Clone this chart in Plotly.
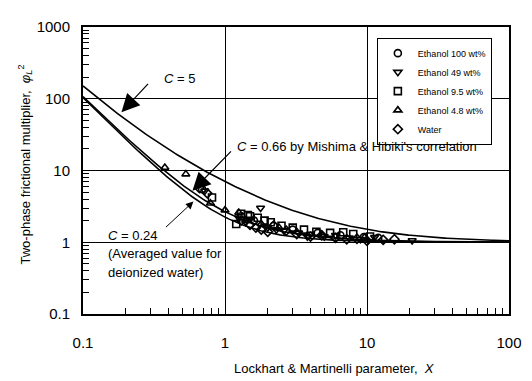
import numpy as np
import plotly.graph_objects as go

# ---- data ----
eth100_x = [0.69, 1.3, 1.6, 2.2, 3.0, 4.5, 6.5, 9.5, 12.0]
eth100_y = [5.5, 2.3, 2.0, 1.7, 1.5, 1.35, 1.25, 1.18, 1.15]

eth49_x = [0.72, 1.25, 1.4, 1.5, 1.78, 2.0, 2.3, 2.6, 3.3, 3.8, 4.0, 5.0, 6.0, 7.5, 9.0, 11.3, 20.8]
eth49_y = [5.2, 2.2, 1.9, 2.1, 3.0, 1.6, 1.5, 1.45, 1.35, 1.2, 1.3, 1.2, 1.25, 1.15, 1.1, 1.17, 1.06]

eth95_x = [0.81, 1.2, 1.3, 1.45, 1.5, 1.7, 1.9, 2.1, 2.5, 3.0, 3.6, 4.4, 5.5, 6.8, 8.0, 10.5]
eth95_y = [4.2, 1.8, 2.5, 2.4, 2.3, 2.2, 2.0, 1.9, 1.7, 1.6, 1.5, 1.4, 1.35, 1.38, 1.3, 1.2]

eth48_x = [0.377, 0.53, 0.79, 1.0, 1.25, 1.4, 1.8, 2.4, 3.2, 4.8, 9.6]
eth48_y = [11.0, 8.9, 3.5, 2.8, 2.6, 2.0, 1.8, 1.6, 1.4, 1.25, 1.17]

water_x = [0.66, 0.75, 1.3, 1.5, 1.65, 1.8, 2.0, 2.2, 2.7, 3.2, 4.0, 4.8, 6.0, 7.2, 8.5, 10.0, 13.0, 15.6]
water_y = [5.7, 4.8, 2.0, 1.75, 1.6, 1.5, 1.4, 1.7, 1.45, 1.3, 1.2, 1.25, 1.15, 1.1, 1.12, 1.05, 1.08, 1.1]

C_values = [5.0, 0.66, 0.24]
curve_X = np.logspace(-1, 2, 200)

x_major = [0.1, 1, 10, 100]
y_major = [0.1, 1, 10, 100, 1000]

series = [
    ("Ethanol 100 wt%", eth100_x, eth100_y, "circle-open"),
    ("Ethanol 49 wt%", eth49_x, eth49_y, "triangle-down-open"),
    ("Ethanol 9.5 wt%", eth95_x, eth95_y, "square-open"),
    ("Ethanol 4.8 wt%", eth48_x, eth48_y, "triangle-up-open"),
    ("Water", water_x, water_y, "diamond-open"),
]

FONT = "Liberation Sans, Arial, sans-serif"
fig = go.Figure()

# Chisholm-type correlation curves: phi^2 = 1 + C/X + 1/X^2
for C in C_values:
    fig.add_trace(go.Scatter(
        x=curve_X, y=1 + C / curve_X + 1 / curve_X**2, mode="lines",
        line=dict(color="black", width=1.6), showlegend=False, hoverinfo="skip"))

for name, xs, ys, sym in series:
    fig.add_trace(go.Scatter(
        x=xs, y=ys, mode="markers", name=name,
        marker=dict(symbol=sym, size=7, color="black", line=dict(color="black", width=1.6))))

# page has an 8px body margin; plot area in page pixels: x 83..515, y 18..314
def lx(px):
    return -1 + (px - 83) / 144.0

def ly(py):
    return 3 - (py - 18) / 74.0

ann = []
ann.append(dict(x=lx(122), y=ly(106), ax=28, ay=-30, text="", showarrow=True,
                arrowhead=2, arrowsize=3, arrowwidth=1.2, arrowcolor="black", standoff=0))
ann.append(dict(x=lx(194), y=ly(187), ax=40, ay=-41, text="", showarrow=True,
                arrowhead=2, arrowsize=3, arrowwidth=1.2, arrowcolor="black", standoff=0))
ann.append(dict(x=lx(195), y=ly(198), ax=-29, ay=27, text="", showarrow=True,
                arrowhead=2, arrowsize=1.5, arrowwidth=1.0, arrowcolor="black", standoff=0))

def txt(px, py, s, size=13):
    return dict(x=lx(px), y=ly(py), text=s, showarrow=False, xanchor="left", yanchor="middle",
                font=dict(family=FONT, size=size, color="black"))

ann.append(txt(163, 71, "<i>C</i> = 5"))
ann.append(txt(237, 141, "<i>C</i> = 0.66 by Mishima &amp; Hibiki's correlation"))
ann.append(txt(106, 233, "<i>C</i> = 0.24"))
ann.append(txt(106, 252, "(Averaged value for"))
ann.append(txt(106, 271, "deionized water)"))

ann.append(dict(xref="paper", yref="paper", x=(338 - 83) / 432, y=1 - (370 - 18) / 296,
                text="Lockhart &amp; Martinelli parameter,  <i>X</i>", showarrow=False,
                xanchor="center", yanchor="middle", font=dict(family=FONT, size=13, color="black")))
ann.append(dict(xref="paper", yref="paper", x=(24 - 83) / 432, y=1 - (160 - 18) / 296,
                text="Two-phase frictional multiplier,  <i>φ<sub>L</sub></i><sup>2</sup>",
                textangle=-90, showarrow=False, xanchor="center", yanchor="middle",
                font=dict(family=FONT, size=13, color="black")))

for a in ann:
    if "xref" not in a:
        a["xref"] = "x"
        a["yref"] = "y"
fig.update_layout(annotations=ann)

def minor_vals(majors):
    return [m * k for m in majors[:-1] for k in range(2, 10)]

def axis_common(majors):
    return dict(type="log", tickmode="array", tickvals=majors,
                ticktext=[("%g" % v) for v in majors],
                showgrid=True, gridcolor="black", gridwidth=1,
                showline=True, linecolor="black", linewidth=2, mirror=True,
                ticks="", zeroline=False,
                tickfont=dict(family=FONT, size=15, color="black"),
                minor=dict(tickmode="array", tickvals=minor_vals(majors), ticks="inside",
                           ticklen=6, tickcolor="black", tickwidth=1, showgrid=False))

fig.update_xaxes(range=[-1, 2], ticklabelstandoff=14, **axis_common(x_major))
fig.update_yaxes(range=[-1, 3], ticklabelstandoff=8, **axis_common(y_major))

fig.update_layout(
    width=524, height=373,
    margin=dict(l=75, r=17, t=10, b=67),
    paper_bgcolor="white", plot_bgcolor="white",
    font=dict(family=FONT, color="black"),
    legend=dict(x=(381 - 83) / 432, y=1 - (29 - 18) / 296, xanchor="left", yanchor="top",
                bgcolor="white", bordercolor="black", borderwidth=1,
                font=dict(family=FONT, size=9, color="black"),
                itemwidth=30, tracegroupgap=0),
)

fig.write_html("out.html")
